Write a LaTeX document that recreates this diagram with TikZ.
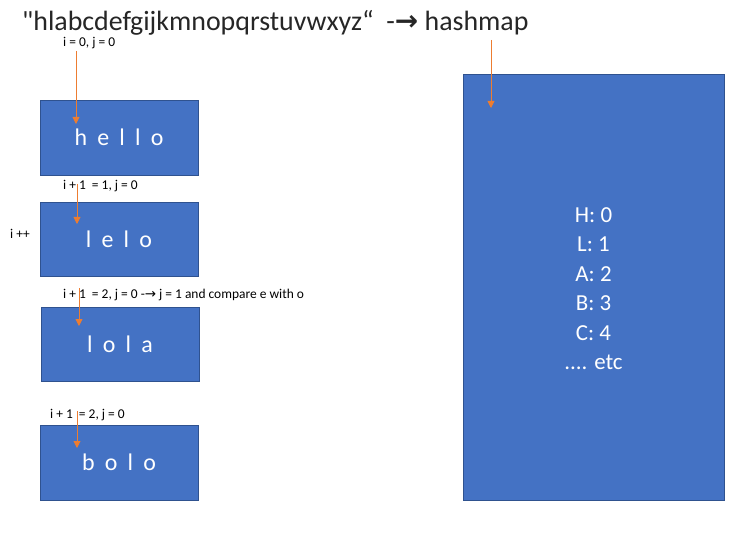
\documentclass[tikz,border=0pt]{standalone}
\usepackage{fontspec}
\setmainfont[Ligatures=TeXOff]{Carlito}
\newfontfamily\arrowfont{DejaVu Sans}
\usetikzlibrary{arrows.meta}
\definecolor{boxblue}{HTML}{4472C4}
\definecolor{boxedge}{HTML}{2F528F}
\definecolor{arrorange}{HTML}{ED7D31}
\definecolor{titlegray}{HTML}{262626}
\begin{document}
\begin{tikzpicture}[x=1bp,y=-1bp,
  wordbox/.style={draw=boxedge, line width=0.8bp, fill=boxblue, minimum width=158bp, minimum height=75bp, inner sep=0, text=white,
    font=\fontsize{24}{28}\selectfont\addfontfeature{LetterSpace=20}},
  mapbox/.style={draw=boxedge, line width=0.8bp, fill=boxblue, minimum width=261bp, minimum height=426bp, inner sep=0},
  lbl/.style={font=\fontsize{13.5}{16}\selectfont, inner sep=0, anchor=base west},
  ptr/.style={draw=arrorange, line width=0.9bp, -{Triangle[width=7bp,length=7bp]}}]
\useasboundingbox (0,0) rectangle (753,536);
% title
\node[font=\fontsize{28}{32}\selectfont, text=titlegray, inner sep=0, anchor=base west] (title) at (22,31)
  {"hlabcdefgijkmnopqrstuvwxyz“\ \ -{\arrowfont\bfseries →} hashmap};
% boxes
\node[wordbox] (b1) at (119,137.5) {h e l l o};
\node[wordbox, minimum height=74bp] (b2) at (119,239) {l e l o};
\node[wordbox, minimum height=74bp] (b3) at (120,344) {l o l a};
\node[wordbox] (b4) at (119,462.5) {b o l o};
\node[mapbox] (map) at (593.5,287) {};
\node[font=\fontsize{23}{29.6}\selectfont, text=white, align=center, inner sep=0, anchor=north] (maptext) at (593.5,207)
  {H: 0\\L: 1\\A: 2\\B: 3\\C: 4\\.... etc};
% labels
\node[lbl] (l1) at (63,47) {i = 0, j = 0};
\node[lbl] (l2) at (63,190) {i + 1\ \ = 1, j = 0};
\node[lbl] (l3) at (63,299) {i + 1\ \ = 2, j = 0 -{\arrowfont →} j = 1 and compare e with o};
\node[lbl] (l4) at (50,418) {i + 1\ \ = 2, j = 0};
\node[lbl] (lpp) at (10,239) {i ++};
% arrow coordinates
\coordinate (s1) at (76,51);
\coordinate (e1) at (76,124);
\coordinate (s2) at (77,184);
\coordinate (e2) at (77,224);
\coordinate (s3) at (79,288);
\coordinate (e3) at (79,326);
\coordinate (s4) at (77,411);
\coordinate (e4) at (77,448);
\coordinate (sh) at (491,40);
\coordinate (eh) at (491,108);
\draw[ptr] (s1) -- (e1);
\draw[ptr] (s2) -- (e2);
\draw[ptr] (s3) -- (e3);
\draw[ptr] (s4) -- (e4);
\draw[ptr] (sh) -- (eh);
\end{tikzpicture}
\end{document}
